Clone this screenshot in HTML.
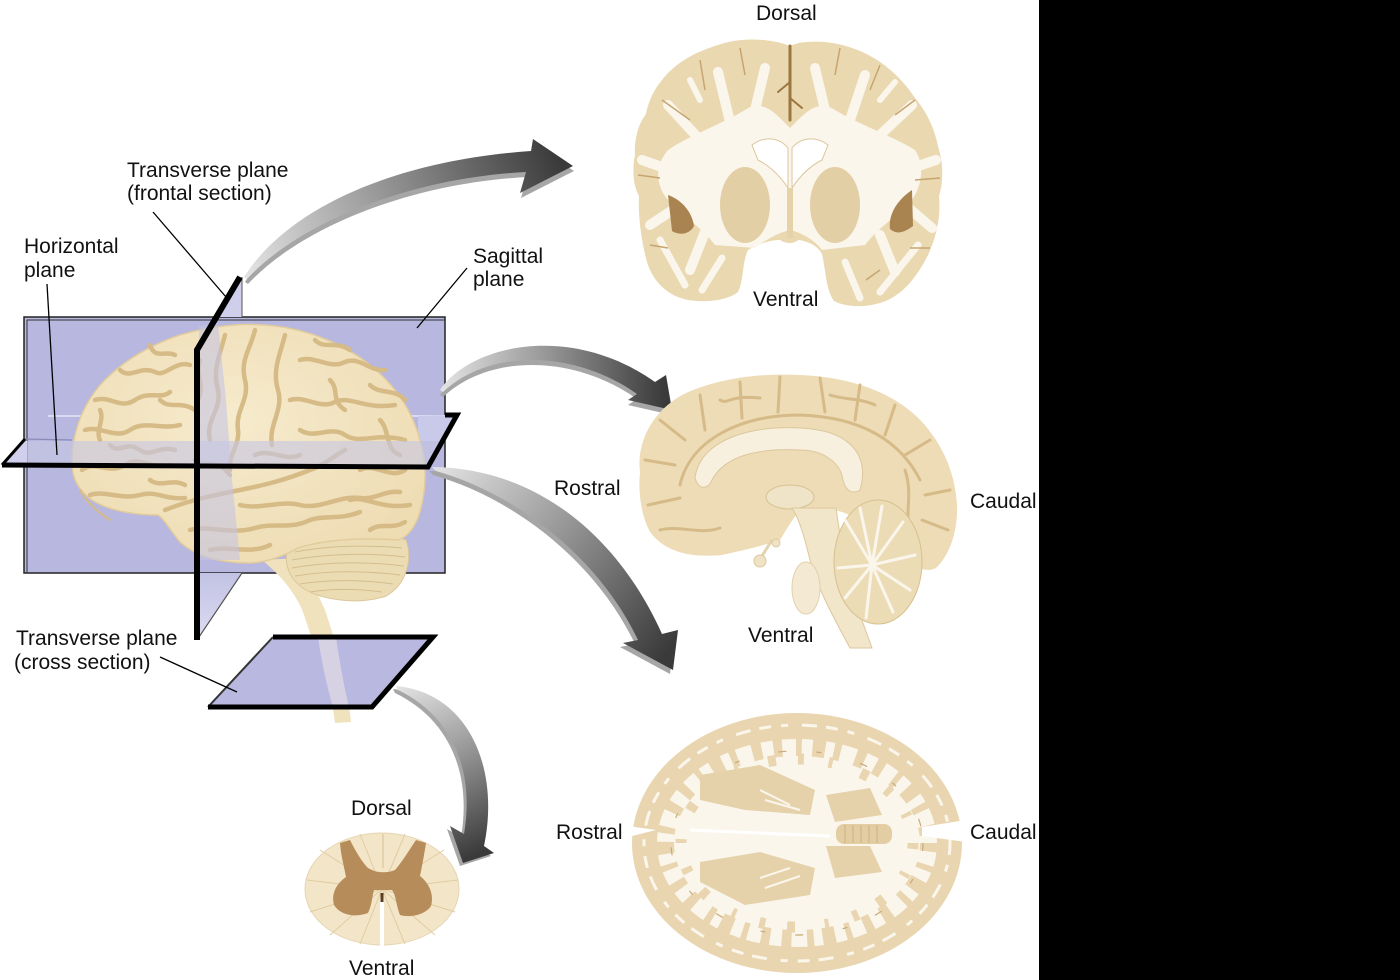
<!DOCTYPE html>
<html><head><meta charset="utf-8"><style>
html,body{margin:0;padding:0;background:#fff;}
svg{display:block;}
text{font-family:"Liberation Sans",Arial,sans-serif;font-size:21px;fill:#111;}
</style></head><body>
<svg width="1400" height="980" viewBox="0 0 1400 980" xmlns="http://www.w3.org/2000/svg">
<defs>
<linearGradient id="g1" gradientUnits="userSpaceOnUse" x1="244" y1="277" x2="560" y2="160"><stop offset="0" stop-color="#e4e4e4"/><stop offset="0.45" stop-color="#9a9a9a"/><stop offset="1" stop-color="#3a3a3a"/></linearGradient>
<linearGradient id="g2" gradientUnits="userSpaceOnUse" x1="440" y1="390" x2="665" y2="395"><stop offset="0" stop-color="#e4e4e4"/><stop offset="0.45" stop-color="#9a9a9a"/><stop offset="1" stop-color="#3a3a3a"/></linearGradient>
<linearGradient id="g3" gradientUnits="userSpaceOnUse" x1="432" y1="467" x2="665" y2="655"><stop offset="0" stop-color="#e4e4e4"/><stop offset="0.45" stop-color="#9a9a9a"/><stop offset="1" stop-color="#3a3a3a"/></linearGradient>
<linearGradient id="g4" gradientUnits="userSpaceOnUse" x1="396" y1="686" x2="475" y2="855"><stop offset="0" stop-color="#e4e4e4"/><stop offset="0.45" stop-color="#9a9a9a"/><stop offset="1" stop-color="#3a3a3a"/></linearGradient>
<linearGradient id="fbot" x1="0" y1="0" x2="0" y2="1"><stop offset="0" stop-color="#c2c2e4"/><stop offset="1" stop-color="#dcdcf2"/></linearGradient>
<radialGradient id="brainG" cx="0.45" cy="0.4" r="0.65"><stop offset="0" stop-color="#f6ebcd"/><stop offset="1" stop-color="#eedcb3"/></radialGradient>
</defs>

<rect x="1039" y="0" width="361" height="980" fill="#000"/>

<!-- Sagittal plane -->
<rect x="24" y="317" width="421" height="256" fill="#b7b7df" stroke="#222" stroke-width="1.5"/>
<path d="M27,573 L27,320 L445,320" fill="none" stroke="#333" stroke-width="1"/>
<line x1="48" y1="416" x2="445" y2="416" stroke="#dadaf2" stroke-width="2"/>
<polygon points="418,416 457,415 443,441 418,441" fill="#c9c9e9"/>

<!-- spinal cord -->
<path d="M262,560 L300,558 C310,575 318,595 325,610 C335,640 342,665 347,690 L351,722 L335,723 C333,705 330,695 328,690 C322,665 312,640 303,612 C295,592 280,575 262,560 Z" fill="#f0e2bd"/>
<!-- cerebellum -->
<path d="M288,548 C320,534 380,530 406,540 C413,560 406,585 386,596 C360,605 320,601 300,586 C287,575 284,560 288,548 Z" fill="#ecdcb4" stroke="#dcc69a" stroke-width="1"/>
<g stroke="#d4bd8d" stroke-width="1" fill="none">
<path d="M295,552 C330,545 370,545 402,548"/><path d="M292,560 C330,553 372,553 405,557"/><path d="M292,568 C330,561 372,562 404,566"/><path d="M295,576 C330,570 370,571 400,575"/><path d="M300,584 C330,579 365,580 393,584"/><path d="M310,592 C335,588 360,589 382,592"/>
</g>
<!-- cerebrum -->
<path d="M72,462 C72,430 85,400 105,380 C125,360 150,345 180,335 C210,326 245,322 275,326 C310,330 345,345 370,365 C395,385 412,410 420,440 C428,465 426,495 418,518 C412,532 405,538 398,540 C370,538 330,538 298,548 C285,555 270,562 250,563 C220,563 195,556 180,542 C170,530 165,520 158,515 C140,515 110,512 92,500 C78,490 72,478 72,462 Z" fill="url(#brainG)" stroke="#e2cc9c" stroke-width="1.5"/>
<g stroke="#d6bb87" stroke-width="4.5" fill="none" stroke-linecap="round">
<path d="M95,400 C110,395 120,410 135,400 C150,390 160,400 170,392"/>
<path d="M85,430 C100,425 115,440 130,430 C145,420 160,430 180,425"/>
<path d="M82,470 C95,460 110,475 125,465 C140,455 150,470 170,465"/>
<path d="M90,495 C105,490 120,500 140,495 C155,490 165,500 185,498"/>
<path d="M120,370 C130,380 140,365 155,372 C165,378 175,360 190,365"/>
<path d="M150,345 C155,360 165,350 175,355"/>
<path d="M110,445 C120,455 125,440 140,450 C150,458 160,445 175,450"/>
<path d="M255,330 C250,350 240,360 245,380 C250,400 235,410 238,430 C240,445 228,455 230,470"/>
<path d="M225,335 C220,355 212,370 218,390 C222,410 205,420 210,440"/>
<path d="M285,335 C280,355 272,370 278,390 C284,410 268,425 272,445"/>
<path d="M300,360 C315,355 330,370 345,362 C360,356 370,372 385,370"/>
<path d="M290,400 C305,395 320,410 335,402 C350,395 365,410 395,405"/>
<path d="M300,430 C315,440 330,425 345,435 C360,445 375,432 405,440"/>
<path d="M360,470 C375,462 390,480 405,470"/>
<path d="M350,500 C365,495 380,510 410,505"/>
<path d="M165,510 C190,500 215,495 240,490 C265,485 285,480 310,470 C325,465 335,455 345,450"/>
<path d="M190,530 C210,525 230,535 255,528 C275,522 290,530 310,520 C325,515 340,520 360,512"/>
<path d="M210,550 C230,545 250,555 270,545"/>
<path d="M240,505 C260,510 280,500 300,505 C320,510 340,495 360,498 C375,500 385,490 400,492"/>
<path d="M195,460 C205,470 215,455 230,475"/>
<path d="M315,340 C325,350 335,340 350,350"/>
<path d="M370,385 C380,395 395,388 405,400"/>
<path d="M160,400 C170,410 180,400 195,410"/>
<path d="M255,455 C270,448 285,462 300,455"/>
<path d="M110,520 C95,510 85,500 80,490" stroke-width="2"/>
<path d="M200,360 C195,375 205,385 198,400"/>
<path d="M330,380 C340,390 330,400 345,410"/>
<path d="M380,420 C390,430 385,450 400,455"/>
<path d="M100,410 C105,420 95,430 100,440"/>
<path d="M150,480 C160,488 172,478 185,485"/>
<path d="M370,530 C380,522 392,530 405,522"/>
</g>

<!-- frontal plane band over brain -->
<polygon points="199,326 218,323 226,400 232,480 240,560 199,560" fill="#c4c4e2" opacity="0.6"/>
<!-- horizontal plane front part -->
<polygon points="24,441 443,441 428,466 24,466" fill="#c6c6e4" opacity="0.62"/>
<polygon points="2,465 25,439 27,441 27,466" fill="#d0d0ee"/>
<line x1="25" y1="439" x2="72" y2="440" stroke="#8a8ab8" stroke-width="1.2"/>
<polygon points="240,277 242,277 242,317 216,317" fill="#cfcfec"/>
<polygon points="197,573 242,573 197,640" fill="url(#fbot)"/>
<line x1="242" y1="277" x2="242" y2="317" stroke="#555" stroke-width="1"/>
<line x1="199" y1="637" x2="242" y2="573" stroke="#555" stroke-width="1.2"/>

<!-- cross-section plane -->
<polygon points="273,637 433,637 372,707 208,707" fill="#b8b8e0"/>
<path d="M318,637 C322,665 328,690 333,707 L349,707 C345,690 340,665 336,637 Z" fill="#efe7e6" opacity="0.55"/>
<path d="M208,707 L273,637" stroke="#333" stroke-width="2" fill="none"/>
<path d="M273,637 L433,637 L372,707 L208,707" stroke="#000" stroke-width="5" fill="none" stroke-linejoin="miter"/>

<!-- black plane edges -->
<path d="M2,465 L428,467 L457,415 L445,415" stroke="#000" stroke-width="5" fill="none" stroke-linejoin="miter"/>
<path d="M2,465 L25,439" stroke="#000" stroke-width="3" fill="none"/>
<path d="M240,277 L197,350 L197,640" stroke="#000" stroke-width="6" fill="none" stroke-linejoin="miter"/>

<!-- Arrows -->
<g transform="translate(1,5)"><path d="M244,277 C290,205 400,160 531,151 L533,139 L573,166 L520,193 L526,172 C410,178 300,222 247,279 Z" fill="#a6a6a6"/></g>
<path d="M244,277 C290,205 400,160 531,151 L533,139 L573,166 L520,193 L526,172 C410,178 300,222 247,279 Z" fill="url(#g1)"/>
<g transform="translate(0,5)"><path d="M440,390 C470,345 570,322 655,382 L666,375 L672,410 L628,400 L637,394 C575,350 490,348 443,392 Z" fill="#a6a6a6"/></g>
<path d="M440,390 C470,345 570,322 655,382 L666,375 L672,410 L628,400 L637,394 C575,350 490,348 443,392 Z" fill="url(#g2)"/>
<g transform="translate(-3,4)"><path d="M432,467 C540,468 620,540 662,634 L678,630 L673,670 L623,643 L638,640 C600,560 520,495 436,471 Z" fill="#a6a6a6"/></g>
<path d="M432,467 C540,468 620,540 662,634 L678,630 L673,670 L623,643 L638,640 C600,560 520,495 436,471 Z" fill="url(#g3)"/>
<g transform="translate(-3,3)"><path d="M396,686 C470,693 500,770 484,846 L494,853 L463,863 L450,826 L464,834 C475,770 452,716 398,690 Z" fill="#a6a6a6"/></g>
<path d="M396,686 C470,693 500,770 484,846 L494,853 L463,863 L450,826 L464,834 C475,770 452,716 398,690 Z" fill="url(#g4)"/>

<!-- Coronal section -->
<path d="M790,46 C770,38 740,37 718,45 C695,52 675,63 662,80 C652,92 648,104 646,114 C638,124 634,140 635,155 C632,170 633,185 639,196 C638,215 641,240 647,262 C653,282 668,296 688,300 C708,303 728,300 738,292 C744,280 742,262 748,250 C758,244 770,240 780,240 C786,244 794,244 798,240 C808,241 818,246 822,254 C826,272 826,290 834,301 C850,309 872,307 888,300 C905,292 918,275 928,255 C937,236 941,215 939,196 C944,180 943,162 938,146 C934,127 926,111 915,98 C905,83 890,67 872,57 C855,47 830,40 808,42 C800,42 795,44 790,46 Z" fill="#ead8b1"/>
<path d="M668,150 C690,135 720,125 745,110 C760,100 772,110 782,120 L790,128 L798,120 C808,110 820,100 835,110 C860,125 890,135 915,150 C925,165 922,185 912,200 C900,215 880,225 865,245 L822,250 C815,240 800,232 790,230 C780,232 765,240 755,248 L715,245 C700,225 680,215 668,200 C655,185 655,165 668,150 Z" fill="#fbf6ec"/>
<g stroke="#fbf6ec" stroke-width="10" stroke-linecap="round" fill="none">
<path d="M700,140 L668,105"/><path d="M730,122 L718,72"/><path d="M755,110 L765,68"/><path d="M825,110 L815,68"/><path d="M850,120 L865,75"/><path d="M880,135 L912,105"/><path d="M670,170 L642,160"/><path d="M912,168 L936,160"/><path d="M680,205 L650,225"/><path d="M905,205 L932,228"/><path d="M705,232 L690,270"/><path d="M880,235 L895,272"/>
<path d="M660,240 L685,285" stroke-width="7"/><path d="M722,258 L702,290" stroke-width="7"/><path d="M918,245 L880,292" stroke-width="7"/><path d="M845,262 L860,298" stroke-width="7"/>
<path d="M700,100 L690,80" stroke-width="6"/><path d="M880,100 L895,82" stroke-width="6"/>
</g>
<ellipse cx="745" cy="205" rx="25" ry="38" fill="#e3cfa5"/>
<ellipse cx="835" cy="205" rx="25" ry="38" fill="#e3cfa5"/>
<path d="M752,145 C765,135 780,138 788,148 L788,188 C780,176 770,166 758,160 Z" fill="#fff" stroke="#dcc69c" stroke-width="1"/>
<path d="M828,145 C815,135 800,138 792,148 L792,188 C800,176 810,166 822,160 Z" fill="#fff" stroke="#dcc69c" stroke-width="1"/>
<path d="M790,188 L790,238" stroke="#e6d2a8" stroke-width="6"/>
<g stroke="#9c7640" fill="none" stroke-linecap="round">
<path d="M790,46 L790,120" stroke-width="3"/><path d="M790,82 L778,92" stroke-width="2"/><path d="M790,98 L802,108" stroke-width="2"/>
</g>
<path d="M668,195 C682,200 692,212 694,226 C690,234 680,236 672,231 Z" fill="#a98450"/>
<path d="M912,190 C897,200 888,215 890,229 C898,236 906,231 913,226 Z" fill="#a98450"/>
<g stroke="#c6a570" stroke-width="1.5" fill="none">
<path d="M662,100 L690,120"/><path d="M700,60 L705,90"/><path d="M740,48 L745,75"/><path d="M840,48 L835,75"/><path d="M880,65 L870,90"/><path d="M915,100 L895,115"/><path d="M638,175 L660,178"/><path d="M940,178 L915,180"/><path d="M650,245 L668,248"/><path d="M930,248 L910,248"/><path d="M866,280 L880,270"/>
</g>

<!-- Sagittal medial section -->
<path d="M640,472 C636,440 655,408 686,393 C720,378 760,373 800,375 C850,377 890,392 915,415 C940,438 955,470 957,505 C958,530 950,555 936,568 C922,575 905,562 890,545 C875,528 855,515 835,510 L800,510 C792,520 786,530 780,540 C765,545 745,550 722,555 C690,558 665,552 650,532 C641,515 638,492 640,472 Z" fill="#eddcb6"/>
<g stroke="#d6bb88" stroke-width="3" fill="none" stroke-linecap="round">
<path d="M680,485 C690,440 740,415 800,415 C860,417 900,440 920,480"/>
<path d="M700,395 L705,430"/><path d="M740,382 L742,418"/><path d="M780,377 L778,412"/><path d="M820,378 L825,412"/><path d="M860,385 L855,420"/><path d="M895,405 L885,435"/><path d="M930,440 L905,455"/><path d="M950,490 L925,495"/><path d="M948,530 L922,520"/><path d="M660,420 L685,440"/><path d="M645,460 L675,465"/><path d="M648,505 L680,498"/>
<path d="M660,530 C680,525 700,535 720,528"/><path d="M905,470 C915,500 900,520 915,545"/>
<path d="M720,400 C730,405 725,395 760,398"/><path d="M830,395 C845,400 860,398 875,405"/>
</g>
<path d="M695,478 C700,440 750,425 800,428 C850,430 870,455 860,490 C852,495 845,490 843,480 C840,460 820,450 800,450 C760,448 725,455 712,480 C708,490 698,490 695,478 Z" fill="#f8f0de" stroke="#dcc79e" stroke-width="1"/>
<ellipse cx="790" cy="497" rx="24" ry="12" fill="#efe3c8" stroke="#d8c290"/>
<path d="M792,508 C800,520 805,540 810,560 C818,590 835,620 850,648 L872,648 C862,620 850,590 845,560 C840,540 838,520 836,508 Z" fill="#f1e5ca" stroke="#ddc89c"/>
<ellipse cx="806" cy="588" rx="14" ry="26" fill="#f4ead4" stroke="#e2d0ab"/>
<path d="M772,540 L762,556" stroke="#e4d3ae" stroke-width="3"/>
<circle cx="760" cy="561" r="6" fill="#efe3c6" stroke="#dcc89c"/>
<circle cx="776" cy="543" r="4" fill="#efe3c6" stroke="#dcc89c"/>
<ellipse cx="878" cy="562" rx="44" ry="62" fill="#ecdcb6" stroke="#d8c08f"/>
<g stroke="#fbf6ec" stroke-width="3" fill="none" stroke-linecap="round">
<path d="M872,565 L845,520"/><path d="M872,565 L860,508"/><path d="M872,565 L882,506"/><path d="M872,565 L903,522"/><path d="M872,565 L915,555"/><path d="M872,565 L910,590"/><path d="M872,565 L893,612"/><path d="M872,565 L866,618"/><path d="M872,565 L845,598"/><path d="M872,565 L838,568"/>
</g>

<!-- Horizontal section -->
<ellipse cx="797" cy="843" rx="165" ry="130" fill="#e9d6b0"/>
<ellipse cx="797" cy="843" rx="140" ry="104" fill="#fbf6ec"/>
<ellipse cx="797" cy="843" rx="136" ry="100" fill="none" stroke="#e9d6b0" stroke-width="26" stroke-dasharray="9 14 6 11 13 9 7 16 10 12"/>
<ellipse cx="797" cy="843" rx="116" ry="84" fill="none" stroke="#e9d6b0" stroke-width="11" stroke-dasharray="6 25 4 30 8 22"/>
<ellipse cx="797" cy="843" rx="153" ry="118" fill="none" stroke="#fbf6ec" stroke-width="3" stroke-dasharray="12 10 7 14 15 9"/>
<ellipse cx="797" cy="843" rx="126" ry="92" fill="none" stroke="#c9a978" stroke-width="1.2" stroke-dasharray="8 30 5 40"/>
<polygon points="922,827 966,820 966,842 922,836" fill="#fff"/>
<polygon points="628,826 656,830 628,837" fill="#fff"/>
<polygon points="700,775 760,765 815,790 810,815 745,810 700,800" fill="#e6d2aa"/>
<polygon points="700,862 760,852 815,868 810,895 745,905 700,882" fill="#e6d2aa"/>
<polygon points="826,795 870,788 882,815 835,822" fill="#e6d2aa"/>
<polygon points="826,846 870,846 882,872 835,878" fill="#e6d2aa"/>
<rect x="836" y="824" width="56" height="20" rx="8" fill="#e3cda2"/>
<g stroke="#cdb080" stroke-width="1"><line x1="845" y1="825" x2="845" y2="843"/><line x1="853" y1="825" x2="853" y2="843"/><line x1="861" y1="825" x2="861" y2="843"/><line x1="869" y1="825" x2="869" y2="843"/><line x1="877" y1="825" x2="877" y2="843"/></g>
<g stroke="#fbf6ec" stroke-width="2" fill="none"><path d="M760,790 L790,805"/><path d="M765,800 L800,810"/><path d="M760,878 L790,868"/><path d="M765,888 L800,876"/></g>
<path d="M690,830 L830,836" stroke="#fff" stroke-width="3"/>

<!-- Spinal cord cross section -->
<ellipse cx="382" cy="889" rx="77" ry="56" fill="#f3e6c8" stroke="#e6d5b0"/>
<g stroke="#e0cca2" stroke-width="1">
<line x1="382" y1="889" x2="320" y2="850"/><line x1="382" y1="889" x2="307" y2="880"/><line x1="382" y1="889" x2="310" y2="912"/><line x1="382" y1="889" x2="330" y2="935"/><line x1="382" y1="889" x2="360" y2="944"/><line x1="382" y1="889" x2="444" y2="850"/><line x1="382" y1="889" x2="458" y2="880"/><line x1="382" y1="889" x2="455" y2="912"/><line x1="382" y1="889" x2="435" y2="935"/><line x1="382" y1="889" x2="405" y2="944"/><line x1="382" y1="889" x2="360" y2="834"/><line x1="382" y1="889" x2="405" y2="834"/>
</g>
<path d="M340,843 L350,840 C356,852 362,862 368,868 L372,870 C378,873 388,873 395,870 C402,862 408,852 416,840 L426,843 C424,856 422,866 420,876 C430,884 434,895 431,906 C425,915 410,918 400,915 C396,905 396,895 392,890 L374,890 C372,897 372,905 368,913 C355,918 340,915 334,905 C331,894 336,884 346,877 C344,866 341,856 340,843 Z" fill="#b78c5b"/>
<line x1="383" y1="834" x2="383" y2="868" stroke="#d9c49a" stroke-width="1.2"/>
<line x1="382" y1="898" x2="382" y2="946" stroke="#fff" stroke-width="4"/>
<line x1="382" y1="893" x2="382" y2="902" stroke="#5a3d1d" stroke-width="3"/>

<!-- Leader lines -->
<g stroke="#000" stroke-width="1.3">
<line x1="47" y1="284" x2="57" y2="455"/>
<line x1="153" y1="212" x2="226" y2="297"/>
<line x1="467" y1="268" x2="417" y2="328"/>
<line x1="160" y1="657" x2="237" y2="692"/>
</g>

<!-- Labels -->
<text x="756" y="20">Dorsal</text>
<text x="127" y="177">Transverse plane</text>
<text x="127" y="200">(frontal section)</text>
<text x="24" y="253">Horizontal</text>
<text x="24" y="277">plane</text>
<text x="473" y="263">Sagittal</text>
<text x="473" y="286">plane</text>
<text x="753" y="306">Ventral</text>
<text x="554" y="495">Rostral</text>
<text x="970" y="508">Caudal</text>
<text x="748" y="642">Ventral</text>
<text x="16" y="645">Transverse plane</text>
<text x="14" y="669">(cross section)</text>
<text x="351" y="815">Dorsal</text>
<text x="556" y="839">Rostral</text>
<text x="970" y="839">Caudal</text>
<text x="349" y="975">Ventral</text>
</svg>
</body></html>
